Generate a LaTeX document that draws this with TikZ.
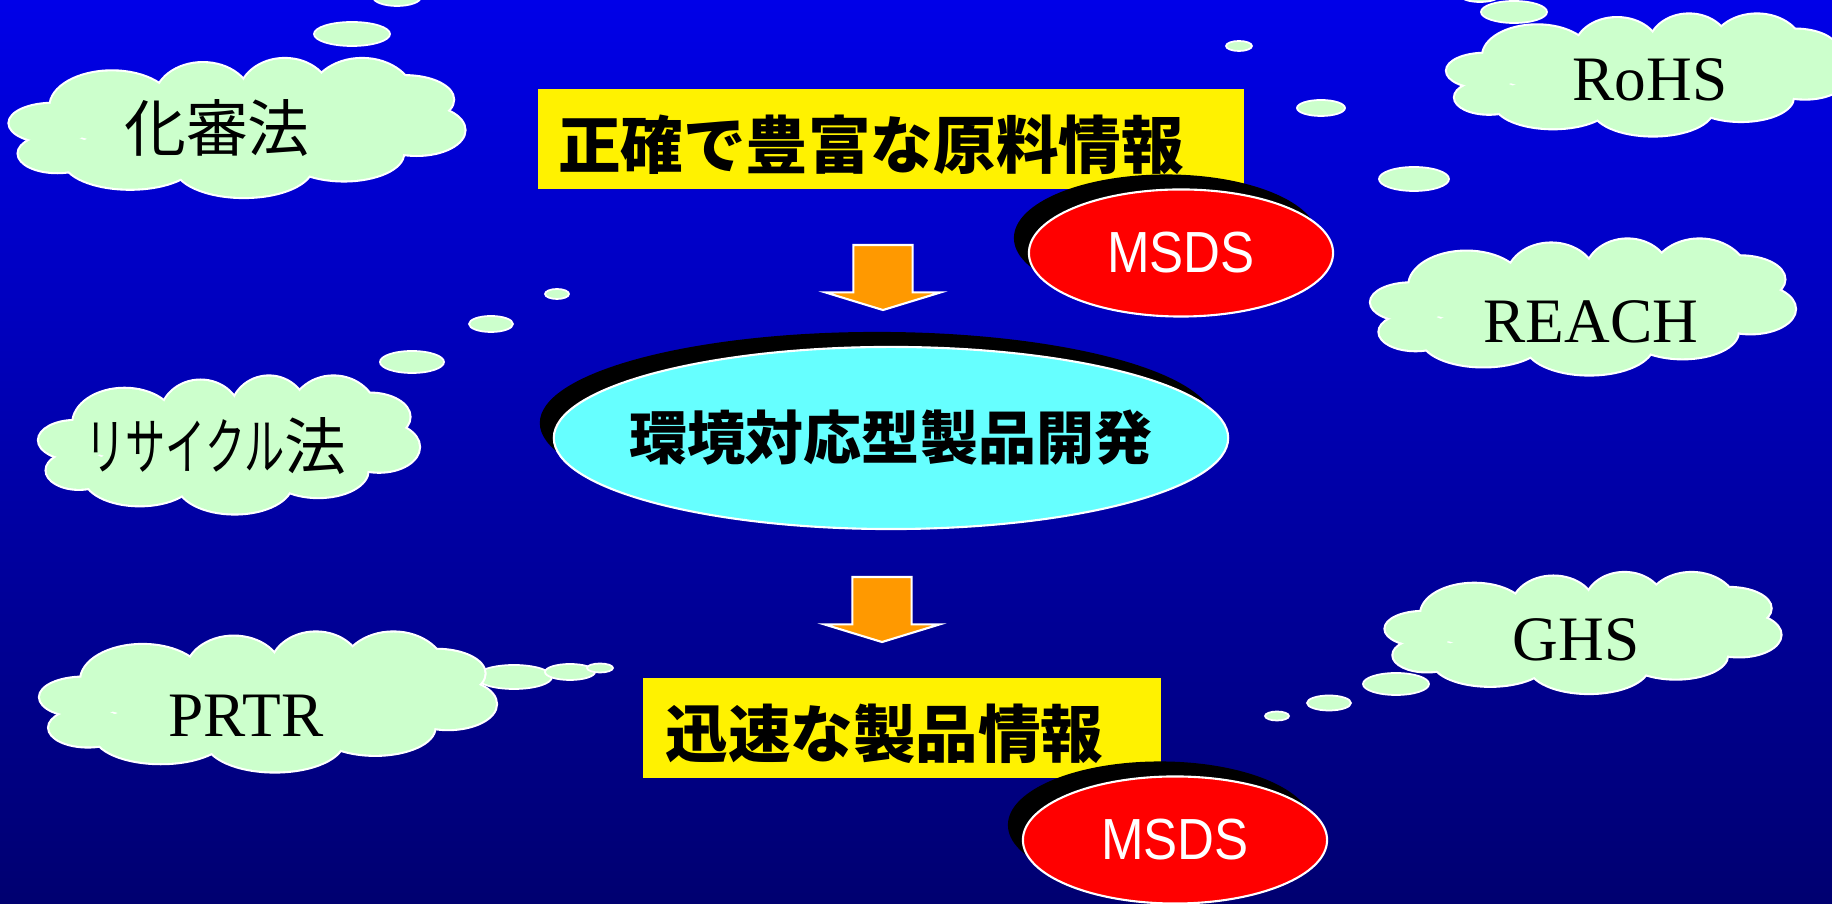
\documentclass[tikz,border=0pt]{standalone}
\usepackage{fontspec}
\setmainfont{Liberation Serif}
\newfontfamily\jp{Noto Sans CJK JP}
\newfontfamily\jpkana[FakeStretch=0.65]{Noto Sans CJK JP}
\newfontfamily\msdsfont[FakeStretch=0.88]{Liberation Sans}
\usetikzlibrary{positioning,shapes.geometric,shapes.arrows,shadows}

\definecolor{skytop}{RGB}{0,0,232}
\definecolor{skybot}{RGB}{0,0,112}
\definecolor{puff}{RGB}{204,255,204}
\definecolor{aqua}{RGB}{102,255,255}
\definecolor{amber}{RGB}{255,153,0}

% puffs of a cloud, on a box of half size 1: x/y/x radius/y radius
\newcommand\puffs{-0.55/-0.31/0.27/0.51, -0.15/-0.41/0.21/0.53, 0.21/-0.46/0.2/0.54, 0.55/-0.41/0.23/0.59,
	0.74/-0.41/0.21/0.34, 0.79/0.03/0.21/0.36, 0.47/0.37/0.26/0.39, 0.03/0.56/0.3/0.44,
	-0.47/0.47/0.29/0.41, -0.79/0.37/0.17/0.27, -0.81/-0.07/0.19/0.28, 0/0/0.65/0.5}
\newcommand\lawcloud[4]{%
	\begin{scope}[shift={(#1,#2)},xscale=#3,yscale=#4]
		\foreach \px/\py/\rx/\ry in \puffs
			\draw [white,line width=1.2pt] (\px,\py) ellipse [x radius=\rx, y radius=\ry];
		\foreach \px/\py/\rx/\ry in \puffs
			\fill [puff] (\px,\py) ellipse [x radius=\rx, y radius=\ry];
	\end{scope}}
\newcommand\lowered[1]{\raisebox{-0.06cm}[\height][\depth]{#1}}

\begin{document}
\begin{tikzpicture}
			[x=0.01cm,y=-0.01cm,
			lawtext/.style={text=black,font=\fontsize{18}{20}\selectfont},
			lawjp/.style={text=black,font=\jp\fontsize{17.6}{20}\selectfont},
			bubble/.style={draw=white,line width=0.5pt,fill=puff},
			info/.style={rectangle,fill=yellow,inner sep=0pt,font=\jp\bfseries\fontsize{17.8}{20}\selectfont},
			goal/.style={ellipse,fill=aqua,draw=white,line width=0.6pt,inner sep=0pt,minimum width=6.74cm,minimum height=1.82cm,
				font=\jp\bfseries\fontsize{16.5}{18}\selectfont,drop shadow={shadow xshift=-0.14cm,shadow yshift=0.15cm,opacity=1,fill=black}},
			seal/.style={ellipse,fill=red,draw=white,line width=0.6pt,inner sep=0pt,minimum width=3.04cm,minimum height=1.27cm,
				text=white,font=\msdsfont\fontsize{16.5}{18}\selectfont,drop shadow={shadow xshift=-0.15cm,shadow yshift=0.15cm,opacity=1,fill=black}},
			down/.style={single arrow,rotate=-90,fill=amber,draw=white,line width=0.6pt,inner xsep=0pt,inner ysep=0.285cm,
				minimum height=0.65cm,minimum width=1.13cm,single arrow head extend=0.28cm,single arrow tip angle=146,single arrow head indent=0pt}]

			\useasboundingbox (0,0) rectangle (1832,904);
			\shade [top color=skytop,bottom color=skybot] (0,0) rectangle (1832,904);

			\begin{scope}
				\clip (0,0) rectangle (1832,904);
				% thought bubbles
				\foreach \cx/\cy/\rx/\ry in {352/34/38/12, 397/-3/24/9, 557/294/12/5, 491/324/22/8, 412/362/32/11,
						1239/46/13/5, 1321/108/24/8, 1414/179/35/12, 1514/12/33/11, 1480/-5/20/7,
						514/677/38/12, 570/672/25/8, 600/668/13/4.5,
						1396/684/33/11, 1329/703/22/7.5, 1277/716/12/4.5}
					\draw [bubble] (\cx,\cy) ellipse [x radius=\rx, y radius=\ry];

				\lawcloud{237}{128}{227.5}{69}
				\lawcloud{1647}{75}{200}{60.5}
				\lawcloud{1583}{307}{212}{67.5}
				\lawcloud{229}{445}{190}{68.5}
				\lawcloud{268}{702}{228}{69.5}
				\lawcloud{1583}{633}{197.5}{60}
			\end{scope}

			\node [lawjp]   (kashin) at (217,128) {化審法};
			\node [lawtext] (rohs)   at (1650,80)  {RoHS};
			\node [lawtext] (reach)  at (1591,322) {REACH};
			\node [lawjp]   (recyc)  at (216,446) {{\jpkana リサイクル}法};
			\node [lawtext] (prtr)   at (246,716) {PRTR};
			\node [lawtext] (ghs)    at (1576,640) {GHS};

			% main flow
			\node [info,minimum width=7.05cm,minimum height=1.0cm] (raw) at (891,139) {\lowered{正確で豊富な原料情報}\hspace*{0.4cm}};
			\node [seal] (msds1) at (1181,253) {\makebox[0pt]{MSDS}};
			\node [down] (arr1) at (883,273) {};

			\node [goal] (dev) at (891,438) {\makebox[0pt]{環境対応型製品開発}};
			\node [down] (arr2) at (882,605) {};

			\node [info,minimum width=5.17cm,minimum height=0.99cm] (prod) at (902,728) {\lowered{迅速な製品情報}\hspace*{0.35cm}};
			\node [seal] (msds2) at (1175,840) {\makebox[0pt]{MSDS}};
\end{tikzpicture}
\end{document}
